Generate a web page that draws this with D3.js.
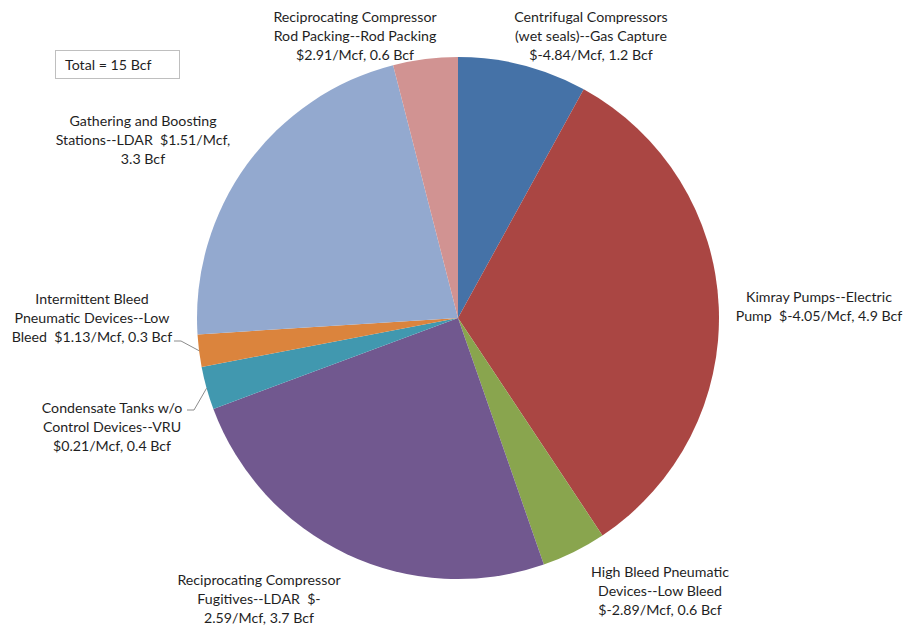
<!DOCTYPE html>
<html>
<head>
<meta charset="utf-8">
<script src="https://cdn.jsdelivr.net/npm/d3@7"></script>
<style>
  body { margin: 0; background: #fff; }
  text { font-family: Lato, "Open Sans", sans-serif; font-size: 14.2px; fill: #1f1f1f; white-space: pre; }
</style>
</head>
<body>
<svg id="chart"></svg>
<script>
// data
const categories = [
    "Centrifugal Compressors", "Kimray Pumps", "High Bleed Pneumatic Devices",
    "Reciprocating Compressor Fugitives", "Condensate Tanks", "Intermittent Bleed Pneumatic Devices",
    "Gathering and Boosting Stations", "Reciprocating Compressor Rod Packing"
];
const values = [1.2, 4.9, 0.6, 3.7, 0.4, 0.3, 3.3, 0.6];
const labelLines = [
    ["Centrifugal Compressors", "(wet seals)--Gas Capture", "$-4.84/Mcf, 1.2 Bcf"],
    ["Kimray Pumps--Electric", "Pump  $-4.05/Mcf, 4.9 Bcf"],
    ["High Bleed Pneumatic", "Devices--Low Bleed", "$-2.89/Mcf, 0.6 Bcf"],
    ["Reciprocating Compressor", "Fugitives--LDAR  $-", "2.59/Mcf, 3.7 Bcf"],
    ["Condensate Tanks w/o", "Control Devices--VRU", "$0.21/Mcf, 0.4 Bcf"],
    ["Intermittent Bleed", "Pneumatic Devices--Low", "Bleed  $1.13/Mcf, 0.3 Bcf"],
    ["Gathering and Boosting", "Stations--LDAR  $1.51/Mcf,", "3.3 Bcf"],
    ["Reciprocating Compressor", "Rod Packing--Rod Packing", "$2.91/Mcf, 0.6 Bcf"]
];
const colors = ["#4572A7", "#AA4643", "#89A54E", "#71588F", "#4198AF", "#DB843D", "#93A9CF", "#D19392"];
const totalText = "Total = 15 Bcf";

// layout: label centre x, first baseline y, and leader line elbow (if any)
const labelLayout = [
    {x: 591, y: 22},
    {x: 819, y: 302},
    {x: 660, y: 577},
    {x: 259, y: 585},
    {x: 112, y: 413, leader: [[187, 410], [194, 410]]},
    {x: 92, y: 304, leader: [[174, 341], [181, 341]]},
    {x: 143, y: 126},
    {x: 355, y: 22}
];

const width = 904, height = 629;
const cx = 458, cy = 318, radius = 261;
const lineH = 19.2;

const svg = d3.select("#chart")
    .attr("width", width)
    .attr("height", height);

const pie = d3.pie().sort(null).value(d => d);
const arcs = pie(values);
const arc = d3.arc().innerRadius(0).outerRadius(radius);
const edgeArc = d3.arc().innerRadius(radius).outerRadius(radius);

const g = svg.append("g").attr("transform", `translate(${cx},${cy})`);

g.selectAll("path.slice")
    .data(arcs)
    .join("path")
    .attr("class", "slice")
    .attr("d", arc)
    .attr("fill", (d, i) => colors[i]);

// leader lines
labelLayout.forEach((lay, i) => {
    if (!lay.leader) return;
    const [ex, ey] = edgeArc.centroid(arcs[i]);
    const pts = lay.leader.map(p => [p[0], p[1]]).concat([[ex + cx, ey + cy]]);
    svg.append("path")
        .attr("d", d3.line()(pts))
        .attr("fill", "none")
        .attr("stroke", "#8c8c8c")
        .attr("stroke-width", 1);
});

// labels
const lbl = svg.selectAll("text.label")
    .data(labelLines)
    .join("text")
    .attr("class", "label")
    .attr("text-anchor", "middle");

lbl.each(function(lines, i) {
    const lay = labelLayout[i];
    d3.select(this).selectAll("tspan")
        .data(lines)
        .join("tspan")
        .attr("x", lay.x)
        .attr("y", (d, j) => lay.y + j * lineH)
        .text(d => d);
});

// total box
svg.append("rect")
    .attr("x", 55.5).attr("y", 50.5)
    .attr("width", 124).attr("height", 28)
    .attr("fill", "#fff")
    .attr("stroke", "#bfbfbf");
svg.append("text")
    .attr("x", 65).attr("y", 70)
    .text(totalText);
</script>
</body>
</html>
